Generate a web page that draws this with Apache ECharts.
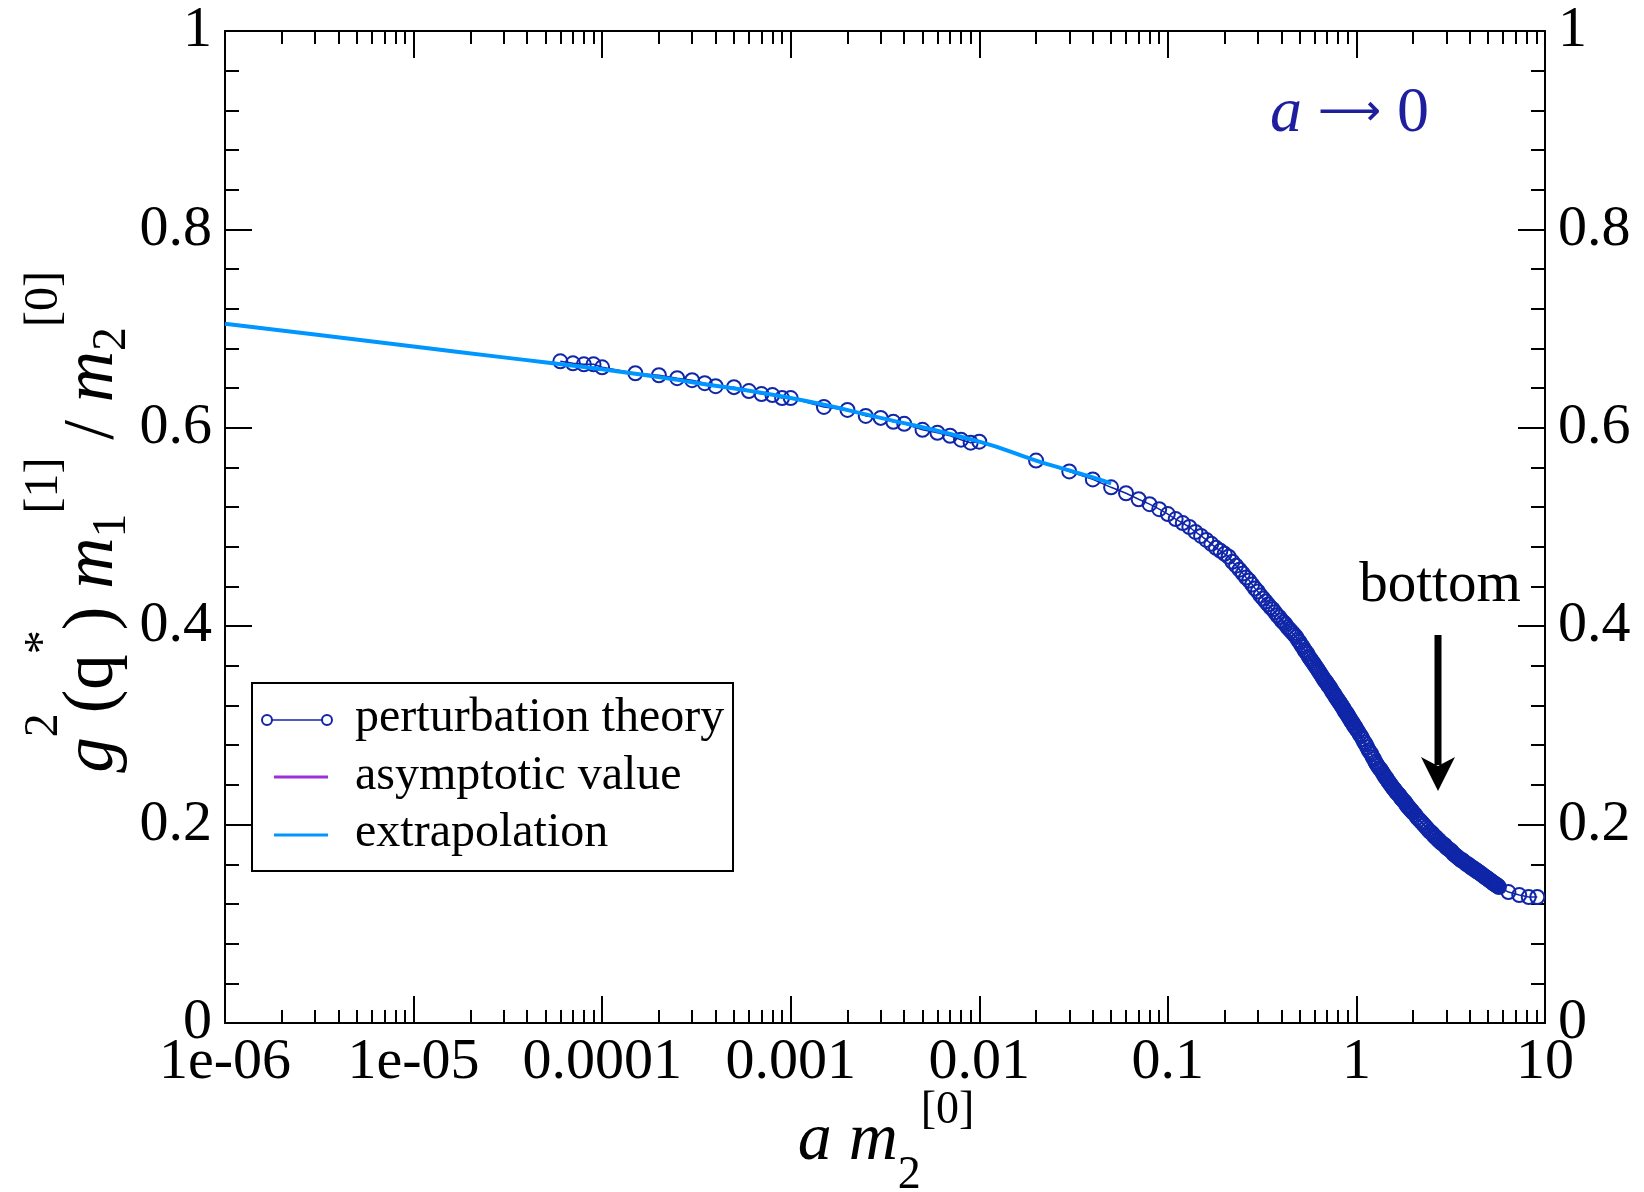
<!DOCTYPE html>
<html>
<head>
<meta charset="utf-8">
<script src="https://cdn.jsdelivr.net/npm/echarts@6.0.0/dist/echarts.min.js"></script>
<style>
html, body { margin: 0; padding: 0; background: #fff; }
#chart { width: 1644px; height: 1192px; }
</style>
</head>
<body>
<div id="chart"></div>
<script>
// tick labels of the log x axis, one per decade from 1e-6 to 10
var xTickLabels = ['1e-06', '1e-05', '0.0001', '0.001', '0.01', '0.1', '1', '10'];

// perturbation theory: sparse points below a m = 0.1
var ptSparseX = [6e-5, 7e-5, 8e-5, 9e-5, 1e-4, 1.5e-4, 2e-4, 2.5e-4, 3e-4, 3.5e-4, 4e-4, 5e-4, 6e-4, 7e-4, 8e-4, 9e-4,
    1e-3, 1.5e-3, 2e-3, 2.5e-3, 3e-3, 3.5e-3, 4e-3, 5e-3, 6e-3, 7e-3, 8e-3, 9e-3, 1e-2, 2e-2, 3e-2, 4e-2, 5e-2,
    6e-2, 7e-2, 8e-2, 9e-2];
var ptSparseY = [0.667, 0.665, 0.664, 0.664, 0.661, 0.655, 0.653, 0.650, 0.648, 0.645, 0.642, 0.641, 0.637, 0.634, 0.633, 0.630,
    0.630, 0.621, 0.618, 0.612, 0.610, 0.606, 0.604, 0.598, 0.595, 0.592, 0.588, 0.585, 0.586, 0.567, 0.556, 0.548, 0.540,
    0.534, 0.528, 0.523, 0.518];

// perturbation theory: dense points 0.1 .. 1
var ptDenseAX = [0.10, 0.11, 0.12, 0.13, 0.14, 0.15, 0.16, 0.17, 0.18, 0.19, 0.20, 0.21, 0.22, 0.23, 0.24, 0.25, 0.26, 0.27, 0.28, 0.29,
    0.30, 0.31, 0.32, 0.33, 0.34, 0.35, 0.36, 0.37, 0.38, 0.39, 0.40, 0.41, 0.42, 0.43, 0.44, 0.45, 0.46, 0.47, 0.48, 0.49,
    0.50, 0.51, 0.52, 0.53, 0.54, 0.55, 0.56, 0.57, 0.58, 0.59, 0.60, 0.61, 0.62, 0.63, 0.64, 0.65, 0.66, 0.67, 0.68, 0.69,
    0.70, 0.71, 0.72, 0.73, 0.74, 0.75, 0.76, 0.77, 0.78, 0.79, 0.80, 0.81, 0.82, 0.83, 0.84, 0.85, 0.86, 0.87, 0.88, 0.89,
    0.90, 0.91, 0.92, 0.93, 0.94, 0.95, 0.96, 0.97, 0.98, 0.99, 1.00];
var ptDenseAY = [0.513, 0.508, 0.504, 0.500, 0.495, 0.491, 0.487, 0.483, 0.479, 0.476, 0.473, 0.470, 0.465, 0.461, 0.457, 0.453, 0.449, 0.446, 0.442, 0.438,
    0.435, 0.431, 0.428, 0.425, 0.422, 0.419, 0.417, 0.414, 0.411, 0.409, 0.406, 0.404, 0.402, 0.399, 0.397, 0.395, 0.393, 0.391, 0.389, 0.386,
    0.384, 0.381, 0.379, 0.376, 0.374, 0.372, 0.369, 0.367, 0.365, 0.363, 0.361, 0.359, 0.357, 0.355, 0.353, 0.351, 0.349, 0.347, 0.345, 0.344,
    0.342, 0.340, 0.339, 0.337, 0.335, 0.333, 0.332, 0.330, 0.328, 0.327, 0.325, 0.324, 0.322, 0.321, 0.319, 0.318, 0.316, 0.314, 0.313, 0.312,
    0.310, 0.309, 0.307, 0.306, 0.304, 0.303, 0.302, 0.300, 0.299, 0.298, 0.296];

// perturbation theory: dense points 1 .. 2
var ptDenseBX = [1.02, 1.04, 1.06, 1.08, 1.10, 1.12, 1.14, 1.16, 1.18, 1.20, 1.22, 1.24, 1.26, 1.28, 1.30, 1.32, 1.34, 1.36, 1.38, 1.40,
    1.42, 1.44, 1.46, 1.48, 1.50, 1.52, 1.54, 1.56, 1.58, 1.60, 1.62, 1.64, 1.66, 1.68, 1.70, 1.72, 1.74, 1.76, 1.78, 1.80,
    1.82, 1.84, 1.86, 1.88, 1.90, 1.92, 1.94, 1.96, 1.98, 2.00];
var ptDenseBY = [0.294, 0.291, 0.289, 0.286, 0.283, 0.281, 0.278, 0.275, 0.273, 0.271, 0.268, 0.266, 0.263, 0.261, 0.259, 0.257, 0.256, 0.254, 0.252, 0.250,
    0.248, 0.247, 0.245, 0.243, 0.242, 0.240, 0.239, 0.237, 0.236, 0.235, 0.233, 0.232, 0.231, 0.230, 0.229, 0.227, 0.226, 0.225, 0.224, 0.223,
    0.222, 0.220, 0.219, 0.218, 0.217, 0.216, 0.215, 0.214, 0.213, 0.212];

// perturbation theory: dense points 2 .. 5.7, then the last sparse ones
var ptDenseCX = [2.05, 2.10, 2.15, 2.20, 2.25, 2.30, 2.35, 2.40, 2.45, 2.50, 2.55, 2.60, 2.65, 2.70, 2.75, 2.80, 2.85, 2.90, 2.95, 3.00,
    3.05, 3.10, 3.15, 3.20, 3.25, 3.30, 3.35, 3.40, 3.45, 3.50, 3.55, 3.60, 3.65, 3.70, 3.75, 3.80, 3.85, 3.90, 3.95, 4.00,
    4.05, 4.10, 4.15, 4.20, 4.25, 4.30, 4.35, 4.40, 4.45, 4.50, 4.55, 4.60, 4.65, 4.70, 4.75, 4.80, 4.85, 4.90, 4.95, 5.00,
    5.05, 5.10, 5.15, 5.20, 5.25, 5.30, 5.35, 5.40, 5.45, 5.50, 5.55, 5.60, 5.65, 5.70, 6.4, 7.3, 8.2, 9.1];
var ptDenseCY = [0.210, 0.207, 0.205, 0.203, 0.201, 0.199, 0.197, 0.195, 0.193, 0.192, 0.190, 0.188, 0.187, 0.185, 0.184, 0.182, 0.181, 0.180, 0.179, 0.177,
    0.176, 0.175, 0.174, 0.173, 0.171, 0.170, 0.169, 0.168, 0.167, 0.166, 0.165, 0.164, 0.164, 0.163, 0.162, 0.161, 0.160, 0.160, 0.159, 0.158,
    0.157, 0.157, 0.156, 0.155, 0.155, 0.154, 0.153, 0.153, 0.152, 0.151, 0.151, 0.150, 0.149, 0.149, 0.148, 0.147, 0.147, 0.146, 0.146, 0.145,
    0.144, 0.144, 0.143, 0.143, 0.142, 0.141, 0.141, 0.140, 0.140, 0.139, 0.139, 0.138, 0.138, 0.137, 0.132, 0.129, 0.127, 0.127];

// extrapolation curve
var exX = [1e-6, 3e-6, 1e-5, 3e-5, 1e-4, 3e-4, 1e-3, 3e-3, 1e-2, 2e-2, 3e-2, 4e-2, 5e-2];
var exY = [0.705, 0.694, 0.682, 0.671, 0.659, 0.646, 0.630, 0.610, 0.586, 0.567, 0.557, 0.550, 0.544];

var serif = '"Liberation Serif", "Times New Roman", serif';
var ptBlue = '#1026a8';
var exBlue = '#0096ff';
var violet = '#9b30d9';

function pairs(xs, ys) {
    return xs.map(function (x, i) { return [x, ys[i]]; });
}
var ptData = pairs(ptSparseX, ptSparseY)
    .concat(pairs(ptDenseAX, ptDenseAY))
    .concat(pairs(ptDenseBX, ptDenseBY))
    .concat(pairs(ptDenseCX, ptDenseCY));

function xAxisOf(pos, showLabel) {
    return {
        type: 'log', logBase: 10, min: 1e-6, max: 10, splitNumber: 7, position: pos,
        axisLine: { show: true, onZero: false, lineStyle: { color: '#000', width: 2 } },
        axisTick: { show: true, inside: true, length: 27, lineStyle: { color: '#000', width: 2 } },
        minorTick: { show: true, splitNumber: 9, length: 13, lineStyle: { color: '#000', width: 2 } },
        axisLabel: {
            show: showLabel, margin: 11, fontSize: 58, fontFamily: serif, color: '#000',
            formatter: function (v) { return xTickLabels[Math.round(Math.log10(v)) + 6]; }
        },
        splitLine: { show: false },
        minorSplitLine: { show: false }
    };
}
function yAxisOf(pos) {
    return {
        type: 'value', min: 0, max: 1, interval: 0.2, position: pos,
        axisLine: { show: true, onZero: false, lineStyle: { color: '#000', width: 2 } },
        axisTick: { show: true, inside: true, length: 27, lineStyle: { color: '#000', width: 2 } },
        minorTick: { show: true, splitNumber: 5, length: 14, lineStyle: { color: '#000', width: 2 } },
        axisLabel: { margin: 13, fontSize: 58, fontFamily: serif, color: '#000' },
        splitLine: { show: false }
    };
}

// rich text pieces for the axis titles
function titleRich(size, pm, ps, pb) {
    var base = { fontFamily: serif, fill: '#000', verticalAlign: 'top', lineHeight: 10 };
    var small = Math.round(size * 0.68);
    return {
        i: Object.assign({}, base, { fontSize: size, fontStyle: 'italic', padding: [pm, 0, 0, 0] }),
        r: Object.assign({}, base, { fontSize: size, padding: [pm, 0, 0, 0] }),
        sp: Object.assign({}, base, { fontSize: small, padding: [ps, 0, 0, 0] }),
        sb: Object.assign({}, base, { fontSize: small, padding: [pb, 0, 0, 0] })
    };
}

var chart = echarts.init(document.getElementById('chart'));
chart.setOption({
    animation: false,
    backgroundColor: '#fff',
    grid: { left: 225, right: 99, top: 31, bottom: 169 },
    xAxis: [xAxisOf('bottom', true), xAxisOf('top', false)],
    yAxis: [yAxisOf('left'), yAxisOf('right')],
    series: [
        {
            name: 'perturbation theory', type: 'line', xAxisIndex: 0, yAxisIndex: 0,
            data: ptData,
            symbol: 'circle', symbolSize: 14,
            itemStyle: { color: 'rgba(0,0,0,0)', borderColor: ptBlue, borderWidth: 2 },
            lineStyle: { color: ptBlue, width: 1.5 },
            emphasis: { disabled: true },
            z: 2
        },
        {
            name: 'asymptotic value', type: 'line', data: [],
            symbol: 'none', lineStyle: { color: violet, width: 3 }
        },
        {
            name: 'extrapolation', type: 'line', xAxisIndex: 0, yAxisIndex: 0,
            data: pairs(exX, exY),
            symbol: 'none', smooth: true,
            lineStyle: { color: exBlue, width: 4 },
            emphasis: { disabled: true },
            z: 3
        }
    ],
    graphic: [
        // y axis title
        {
            type: 'text', x: 18, y: 522, rotation: Math.PI / 2,
            style: {
                text: '{i|g}{sp|2}{r|(q}{sp|*}{r|) }{i|m}{sb|1}{sp|[1]}{r| / }{i|m}{sb|2}{sp|[0]}',
                rich: titleRich(71, 40, 2, 70), align: 'center', verticalAlign: 'top'
            }
        },
        // x axis title
        {
            type: 'text', x: 886, y: 1085,
            style: {
                text: '{i|a m}{sb|2}{sp|[0]}',
                rich: titleRich(68, 22, 3, 68), align: 'center', verticalAlign: 'top'
            }
        },
        // a -> 0
        {
            type: 'text', x: 1270, y: 114,
            style: {
                text: '{i|a}{r| }{ar|\u27f6}{r| 0}',
                rich: {
                    i: { fontFamily: serif, fontSize: 64, fontStyle: 'italic', fill: '#1e1e9e' },
                    r: { fontFamily: serif, fontSize: 64, fill: '#1e1e9e' },
                    ar: { fontFamily: '"DejaVu Sans"', fontSize: 44, fill: '#1e1e9e' }
                },
                align: 'left', verticalAlign: 'middle'
            }
        },
        // bottom annotation with arrow
        {
            type: 'text', x: 1440, y: 586,
            style: { text: 'bottom', fontFamily: serif, fontSize: 57, fill: '#000', align: 'center', verticalAlign: 'middle' }
        },
        {
            type: 'line', shape: { x1: 1438, y1: 635, x2: 1438, y2: 765 },
            style: { stroke: '#000', lineWidth: 7 }
        },
        {
            type: 'polygon', shape: { points: [[1421, 757], [1438, 766], [1455, 757], [1438, 791]] },
            style: { fill: '#000' }
        },
        // legend
        {
            type: 'group', z: 100,
            children: [
                { type: 'rect', shape: { x: 252, y: 683, width: 481, height: 188 }, style: { fill: '#fff', stroke: '#000', lineWidth: 2 } },
                { type: 'line', shape: { x1: 267, y1: 720, x2: 327, y2: 720 }, style: { stroke: ptBlue, lineWidth: 1.5 } },
                { type: 'circle', shape: { cx: 267, cy: 720, r: 5 }, style: { fill: '#fff', stroke: ptBlue, lineWidth: 2 } },
                { type: 'circle', shape: { cx: 327, cy: 720, r: 5 }, style: { fill: '#fff', stroke: ptBlue, lineWidth: 2 } },
                { type: 'line', shape: { x1: 274, y1: 777, x2: 328, y2: 777 }, style: { stroke: violet, lineWidth: 3 } },
                { type: 'line', shape: { x1: 274, y1: 835, x2: 328, y2: 835 }, style: { stroke: exBlue, lineWidth: 3 } },
                { type: 'text', x: 355, y: 718, style: { text: 'perturbation theory', fontFamily: serif, fontSize: 48, fill: '#000', verticalAlign: 'middle' } },
                { type: 'text', x: 355, y: 776, style: { text: 'asymptotic value', fontFamily: serif, fontSize: 48, fill: '#000', verticalAlign: 'middle' } },
                { type: 'text', x: 355, y: 833, style: { text: 'extrapolation', fontFamily: serif, fontSize: 48, fill: '#000', verticalAlign: 'middle' } }
            ]
        }
    ]
});
</script>
</body>
</html>
